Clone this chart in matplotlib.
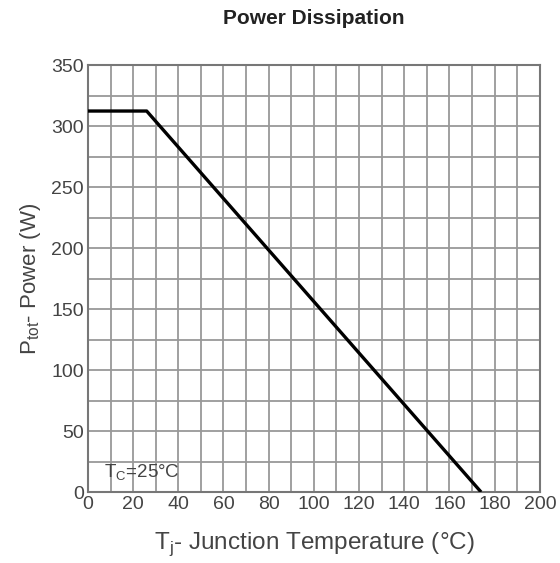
from matplotlib import pyplot as plt
import numpy as np

plt.rcParams['font.family'] = ['Liberation Sans', 'DejaVu Sans']

# curva de derating
temp = [0, 26, 174]
potencia = [312.5, 312.5, 0]

fig = plt.figure(figsize=(5.6, 5.63), dpi=100)
ax = fig.add_axes([0.157, 0.126, 0.807, 0.758])

ax.plot(temp, potencia, color='black', lw=2.4, solid_capstyle='butt', zorder=3)

ax.set_xlim(0, 200)
ax.set_ylim(0, 350)
ax.set_xticks(np.arange(0, 201, 20))
ax.set_yticks(np.arange(0, 351, 50))
ax.set_xticks(np.arange(0, 201, 10), minor=True)
ax.set_yticks(np.arange(0, 351, 25), minor=True)
ax.grid(which='both', color='#999999', lw=1.3)
ax.tick_params(which='both', length=0, labelsize=14, colors='#444444', pad=3)
for s in ax.spines.values():
    s.set_color('#777777')
    s.set_linewidth(1.5)

ax.set_title('Power Dissipation', fontsize=15, fontweight='bold', color='#222222', pad=30)
ax.set_xlabel(r'T$_\mathregular{j}$- Junction Temperature (°C)', fontsize=17.5, color='#444444', labelpad=12)
ax.set_ylabel(r'P$_\mathregular{tot}$- Power (W)', fontsize=16, color='#444444', labelpad=6)

ax.text(7, 12, r'T$_\mathregular{C}$=25°C', fontsize=13.5, color='#444444', zorder=4)

plt.savefig('out.png', dpi=100)
